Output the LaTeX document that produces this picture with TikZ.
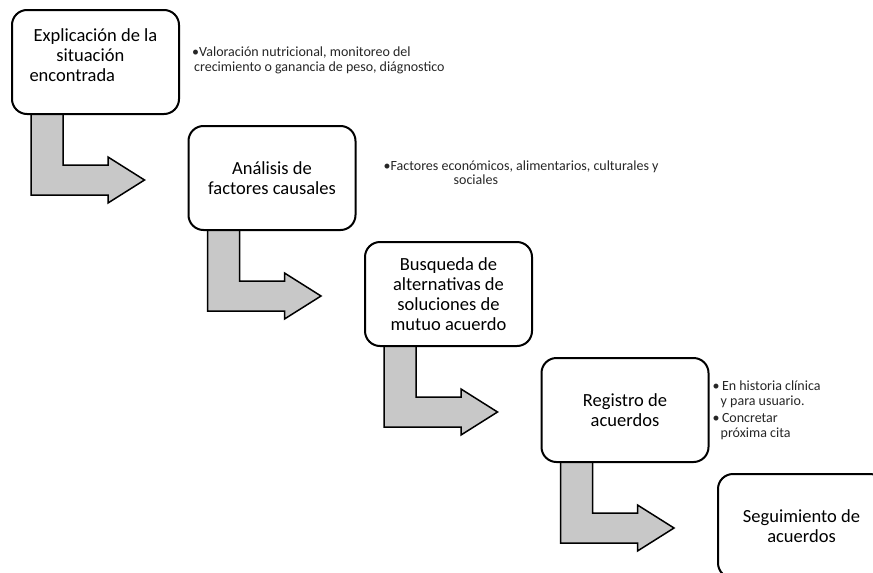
\documentclass[tikz,border=0pt]{standalone}
\usepackage{fontspec}
\setmainfont{Carlito}
\usepackage{tikz}
\usetikzlibrary{
	positioning,
	backgrounds
}
\definecolor{flechagris}{HTML}{C8C8C8}
\tikzset{
	paso/.style={
		draw, fill=white, line width=2pt, rounded corners=15pt,
		minimum width=167pt, minimum height=104pt,
		inner sep=2pt, outer sep=0pt, align=center,
		font=\fontsize{18.5}{20}\selectfont
	},
	nota/.style={
		align=left, inner sep=0pt, text=black!85,
		font=\fontsize{14}{15}\selectfont
	},
	flecha/.style={
		draw, fill=flechagris, line width=1.5pt, line join=miter
	}
}

\begin{document}
\begin{tikzpicture}[x=1pt,y=-1pt]
		\useasboundingbox (0,0) rectangle (873,573);
		\clip (0,0) rectangle (873,573);

		\node[paso,anchor=north west]              (b1) at (12,10)
			{Explicación de la\\\makebox[78pt][l]{situación}\\\makebox[132pt][l]{encontrada}\\[-6pt]\mbox{}};
		\node[paso,below right=12pt and 9.5pt of b1] (b2) {Análisis de\\factores causales};
		\node[paso,below right=12pt and 9.5pt of b2] (b3) {Busqueda de\\alternativas de\\soluciones de\\mutuo acuerdo};
		\node[paso,below right=12pt and 9.5pt of b3] (b4) {Registro de\\acuerdos};
		\node[paso,below right=12pt and 9.5pt of b4] (b5) {Seguimiento de\\acuerdos};

		\node[nota,right=13pt of b1,yshift=2pt] (n1)
			{\textbullet Valoración nutricional, monitoreo del\\\hspace*{2pt}crecimiento o ganancia de peso, diágnostico};
		\node[nota,right=28pt of b2,yshift=5pt,font=\fontsize{14}{14}\selectfont] (n2)
			{\textbullet Factores económicos, alimentarios, culturales y\\\hspace*{70pt}sociales};
		\node[nota,right=4pt of b4] (n4)
			{\textbullet\,En historia clínica\\\hspace*{8pt}y para usuario.\\[2pt]\textbullet\,Concretar\\\hspace*{8pt}próxima cita};

		% bent arrows under the boxes
		\begin{scope}[on background layer]
			\foreach \a in {b1,b2,b3,b4}
				\draw[flecha,shift={(\a.south west)}]
					(19,0) -- (19,81) -- (96,81) -- (96,89) -- (132.5,66)
					-- (96,43) -- (96,51) -- (51,51) -- (51,0) -- cycle;
		\end{scope}
	\end{tikzpicture}
\end{document}
